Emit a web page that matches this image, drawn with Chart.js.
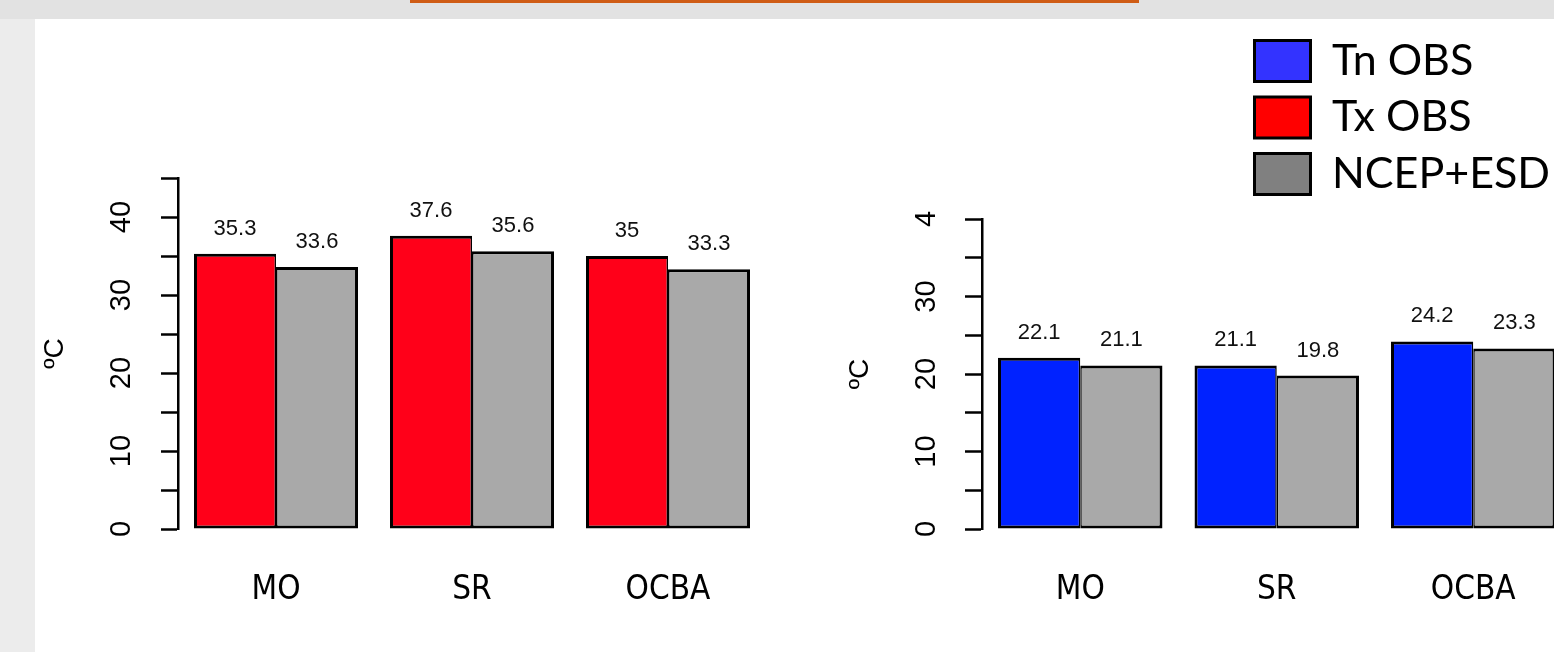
<!DOCTYPE html>
<html>
<head>
<meta charset="utf-8">
<script src="https://cdn.jsdelivr.net/npm/chart.js@4.4.1/dist/chart.umd.min.js"></script>
<style>
  html, body { margin: 0; padding: 0; }
  body { width: 1554px; height: 652px; overflow: hidden; position: relative; background: #fff; }
  #pas-levy { position: absolute; left: 0; top: 0; width: 35px; height: 652px; background: #ececec; }
  #pas-horni { position: absolute; left: 0; top: 0; width: 1554px; height: 19px; background: #e2e2e2; }
  #linka { position: absolute; left: 410px; top: 0; width: 729px; height: 3px; background: #cf5c15; }
  canvas { position: absolute; }
  #graf-tx { left: 0; top: 0; }
  #graf-tn { left: 800px; top: 0; }
  #legenda { left: 1240.5px; top: 25.5px; }
</style>
</head>
<body>
<div id="pas-levy"></div>
<div id="pas-horni"></div>
<div id="linka"></div>
<canvas id="graf-tx" width="800" height="652"></canvas>
<canvas id="graf-tn" width="800" height="652"></canvas>
<canvas id="legenda" width="314" height="500"></canvas>
<script>
// --- DATA ---
const kategorie = ['MO', 'SR', 'OCBA'];
const txObs = [35.3, 37.6, 35];
const txEsd = [33.6, 35.6, 33.3];
const tnObs = [22.1, 21.1, 24.2];
const tnEsd = [21.1, 19.8, 23.3];
// popisky osy y (tiky po 5, popisek jen u desítek)
const txTickLabels = ['0', '', '10', '', '20', '', '30', '', '40', ''];
const tnTickLabels = ['0', '', '10', '', '20', '', '30', '', '4'];
const legendaPopisky = ['Tn OBS', 'Tx OBS', 'NCEP+ESD'];
const legendaBarvy = ['#3333ff', '#ff0000', '#808080'];

Chart.defaults.font.family = "'Liberation Sans', Arial, sans-serif";
Chart.defaults.color = '#000';

// hodnoty nad sloupci
const popiskyHodnot = {
    id: 'popiskyHodnot',
    afterDatasetsDraw(chart) {
        const ctx = chart.ctx;
        ctx.save();
        ctx.font = "22px 'Liberation Sans', Arial, sans-serif";
        ctx.fillStyle = '#111';
        ctx.textAlign = 'center';
        ctx.textBaseline = 'alphabetic';
        chart.data.datasets.forEach((ds, i) => {
            chart.getDatasetMeta(i).data.forEach((bar, j) => {
                ctx.fillText(String(ds.data[j]), bar.x, bar.y - 19);
            });
        });
        ctx.restore();
    }
};

function vytvoritGraf(id, obs, esd, obsLabel, obsBarva, tickLabels, maxY, nastaveni) {
    const spolecne = { borderColor: '#000', borderSkipped: false, categoryPercentage: 0.837, barPercentage: 1 };
    return new Chart(document.getElementById(id), {
        type: 'bar',
        data: {
            labels: kategorie,
            datasets: [
                Object.assign({ label: obsLabel, data: obs, backgroundColor: obsBarva,
                    borderWidth: { top: 3, left: 3, bottom: 3, right: 1.5 } }, spolecne),
                Object.assign({ label: 'NCEP+ESD', data: esd, backgroundColor: '#a9a9a9',
                    borderWidth: { top: 3, left: 1.5, bottom: 3, right: 3 } }, spolecne)
            ]
        },
        options: {
            responsive: false,
            animation: false,
            layout: { padding: { top: nastaveni.top, left: 0, right: nastaveni.right, bottom: 0 } },
            plugins: { legend: { display: false }, tooltip: { enabled: false } },
            scales: {
                x: {
                    grid: { display: false, drawTicks: false },
                    border: { display: false },
                    ticks: {
                        color: '#000', padding: 42, maxRotation: 0,
                        font: { family: "'Liberation Sans Narrow', 'DejaVu Sans Condensed', 'Liberation Sans', sans-serif", size: 33 }
                    },
                    afterFit: s => { s.height = 123; }
                },
                y: {
                    min: 0, max: maxY,
                    ticks: {
                        stepSize: 5, autoSkip: false, minRotation: 90, maxRotation: 90,
                        crossAlign: 'center', padding: nastaveni.tickPad, color: '#000',
                        font: { size: 29 },
                        callback: (v, i) => tickLabels[i]
                    },
                    grid: { drawOnChartArea: false, drawTicks: true, tickLength: 17, tickWidth: 2.5, tickColor: '#000' },
                    border: { display: true, color: '#000', width: 2.5 },
                    title: { display: true, text: 'ºC', color: '#000', font: { size: 28 }, padding: { top: nastaveni.titlePad, bottom: 0 } },
                    afterFit: s => { s.width = nastaveni.osaX; }
                }
            }
        },
        plugins: [popiskyHodnot]
    });
}

vytvoritGraf('graf-tx', txObs, txEsd, 'Tx OBS', '#ff0019', txTickLabels, 45,
    { top: 178, right: 34, osaX: 178, tickPad: 22.9, titlePad: 38 });
vytvoritGraf('graf-tn', tnObs, tnEsd, 'Tn OBS', '#0022ff', tnTickLabels, 40,
    { top: 219, right: 28.5, osaX: 182, tickPad: 21.9, titlePad: 43 });

// --- LEGENDA ---
new Chart(document.getElementById('legenda'), {
    type: 'bar',
    data: {
        labels: [],
        datasets: legendaPopisky.map((text, i) => ({
            label: text, data: [], backgroundColor: legendaBarvy[i], borderColor: '#000', borderWidth: 3
        }))
    },
    options: {
        responsive: false,
        animation: false,
        scales: { x: { display: false }, y: { display: false } },
        plugins: {
            tooltip: { enabled: false },
            legend: {
                position: 'top', align: 'start', onClick: null,
                labels: { boxWidth: 56, boxHeight: 41, padding: 13.5, color: '#000', font: { family: 'Lato', size: 43 } }
            }
        }
    }
});
</script>
</body>
</html>
